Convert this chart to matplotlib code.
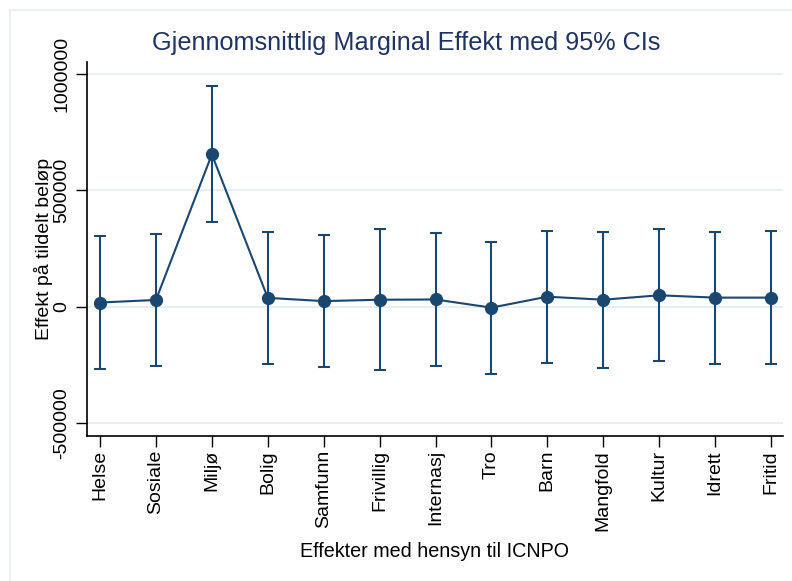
import matplotlib.pyplot as plt
from matplotlib.patches import Rectangle

plt.rcParams['font.family'] = ['Liberation Sans', 'DejaVu Sans']

categories = ['Helse', 'Sosiale', 'Miljø', 'Bolig', 'Samfunn', 'Frivillig', 'Internasj',
              'Tro', 'Barn', 'Mangfold', 'Kultur', 'Idrett', 'Fritid']
effect = [19000, 30000, 655000, 39000, 25000, 31000, 32000, -3000, 44000, 31000, 50000, 40000, 40000]
ci_low = [-265000, -253000, 363000, -245000, -259000, -272000, -253000, -286000, -239000, -260000, -233000, -243000, -243000]
ci_high = [305000, 313000, 947000, 323000, 309000, 335000, 317000, 280000, 327000, 322000, 333000, 323000, 324000]
yticks = [-500000, 0, 500000, 1000000]

navy = '#1a476f'

fig = plt.figure(figsize=(7.92, 5.81), dpi=100)
ax = fig.add_axes([87 / 792, 1 - 436 / 581, (783 - 87) / 792, (436 - 62) / 581])

# light outer frame like Stata graph region
fig.patches.append(Rectangle((9.5 / 792, -0.1), 1.2, 1 - 9.5 / 581 + 0.1, transform=fig.transFigure,
                             fill=False, edgecolor='#e6eef0', linewidth=1.2))

x = list(range(len(categories)))
err = [[e - lo for e, lo in zip(effect, ci_low)], [hi - e for e, hi in zip(effect, ci_high)]]
ax.errorbar(x, effect, yerr=err, fmt='none', ecolor=navy, elinewidth=1.5, capsize=4.5, capthick=1.5)
ax.plot(x, effect, color=navy, linewidth=1.5, marker='o', markersize=8.5, zorder=3)

ax.set_xlim(-0.233, 12.215)
ax.set_ylim(-554000, 1051500)
ax.set_yticks(yticks)
ax.set_yticklabels([str(v) for v in yticks], rotation=90, va='center', fontsize=14)
ax.set_xticks(x)
ax.set_xticklabels(categories, rotation=90, fontsize=14)
ax.tick_params(axis='both', length=8, width=1, color='black')
ax.tick_params(axis='y', pad=4)
ax.tick_params(axis='x', pad=2)

for v in yticks:
    ax.axhline(v, color='#e8eff2', linewidth=1.5, zorder=0)

for s in ['top', 'right']:
    ax.spines[s].set_visible(False)
for s in ['left', 'bottom']:
    ax.spines[s].set_linewidth(1.2)

ax.set_ylabel('Effekt på tildelt beløp', fontsize=14, labelpad=0)
ax.set_xlabel('Effekter med hensyn til ICNPO', fontsize=14.2, labelpad=8)
fig.text(406 / 792, 1 - 43 / 581, 'Gjennomsnittlig Marginal Effekt med 95% CIs',
         ha='center', va='center', fontsize=18.2, color='#1f3461')

fig.savefig('out.png', dpi=100)
